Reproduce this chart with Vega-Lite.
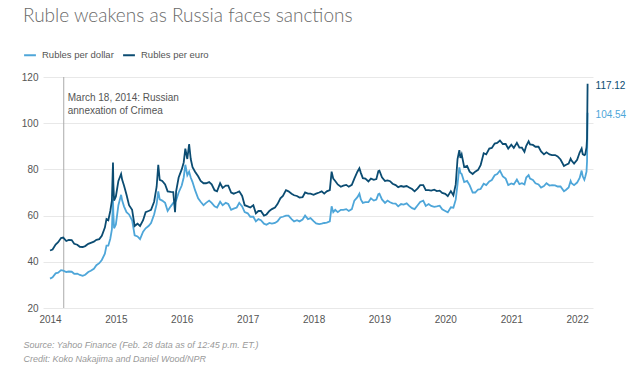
{
  "$schema": "https://vega.github.io/schema/vega-lite/v6.json",
  "width": 550,
  "height": 231,
  "autosize": {"type": "none"},
  "padding": {"left": 43, "top": 77, "right": 37, "bottom": 67},
  "background": "white",
  "config": {
    "view": {"stroke": null},
    "font": "Liberation Sans",
    "axis": {"labelFont": "Liberation Sans", "labelColor": "#555555", "labelFontSize": 10}
  },
  "title": {
    "text": "Ruble weakens as Russia faces sanctions",
    "anchor": "start",
    "frame": "group",
    "font": "Lato",
    "fontSize": 19,
    "fontWeight": 300,
    "color": "#6a6a6a",
    "dx": -20,
    "offset": 22
  },
  "datasets": {
    "rates": [
      {"date": "2014-01-01", "usd": 32.7, "eur": 44.9},
      {"date": "2014-01-15", "usd": 33.3, "eur": 45.3},
      {"date": "2014-02-01", "usd": 35.0, "eur": 47.5},
      {"date": "2014-02-15", "usd": 35.3, "eur": 48.5},
      {"date": "2014-03-03", "usd": 36.4, "eur": 50.3},
      {"date": "2014-03-15", "usd": 36.2, "eur": 50.5},
      {"date": "2014-04-01", "usd": 35.6, "eur": 49.0},
      {"date": "2014-04-15", "usd": 35.8, "eur": 49.5},
      {"date": "2014-05-01", "usd": 35.7, "eur": 49.4},
      {"date": "2014-05-15", "usd": 34.8, "eur": 47.8},
      {"date": "2014-06-01", "usd": 34.9, "eur": 47.4},
      {"date": "2014-06-15", "usd": 34.3, "eur": 46.5},
      {"date": "2014-07-01", "usd": 33.9, "eur": 46.4},
      {"date": "2014-07-15", "usd": 34.4, "eur": 46.8},
      {"date": "2014-08-01", "usd": 35.6, "eur": 47.8},
      {"date": "2014-08-15", "usd": 36.1, "eur": 48.2},
      {"date": "2014-09-01", "usd": 37.0, "eur": 48.7},
      {"date": "2014-09-15", "usd": 38.5, "eur": 49.5},
      {"date": "2014-10-01", "usd": 39.4, "eur": 49.8},
      {"date": "2014-10-15", "usd": 40.8, "eur": 51.2},
      {"date": "2014-11-01", "usd": 43.5, "eur": 54.8},
      {"date": "2014-11-10", "usd": 47.0, "eur": 58.5},
      {"date": "2014-11-20", "usd": 47.0, "eur": 58.0},
      {"date": "2014-12-01", "usd": 50.0, "eur": 62.0},
      {"date": "2014-12-10", "usd": 54.0, "eur": 66.5},
      {"date": "2014-12-16", "usd": 67.0, "eur": 83.0},
      {"date": "2014-12-18", "usd": 61.0, "eur": 74.0},
      {"date": "2014-12-22", "usd": 54.5, "eur": 66.5},
      {"date": "2015-01-01", "usd": 56.2, "eur": 68.3},
      {"date": "2015-01-15", "usd": 64.5, "eur": 75.0},
      {"date": "2015-01-30", "usd": 69.0, "eur": 78.0},
      {"date": "2015-02-05", "usd": 66.5, "eur": 75.5},
      {"date": "2015-02-15", "usd": 64.0, "eur": 73.0},
      {"date": "2015-03-01", "usd": 61.5, "eur": 69.0},
      {"date": "2015-03-15", "usd": 60.5, "eur": 64.5},
      {"date": "2015-04-01", "usd": 58.0, "eur": 62.5},
      {"date": "2015-04-15", "usd": 51.5, "eur": 55.5},
      {"date": "2015-05-01", "usd": 51.0, "eur": 56.5},
      {"date": "2015-05-15", "usd": 49.8, "eur": 55.5},
      {"date": "2015-06-01", "usd": 53.0, "eur": 58.0},
      {"date": "2015-06-15", "usd": 54.5, "eur": 61.5},
      {"date": "2015-07-01", "usd": 55.5, "eur": 62.0},
      {"date": "2015-07-15", "usd": 56.8, "eur": 62.5},
      {"date": "2015-08-01", "usd": 60.5, "eur": 66.0},
      {"date": "2015-08-15", "usd": 65.0, "eur": 72.5},
      {"date": "2015-08-24", "usd": 70.5, "eur": 82.0},
      {"date": "2015-09-01", "usd": 67.0, "eur": 75.5},
      {"date": "2015-09-15", "usd": 66.5, "eur": 75.0},
      {"date": "2015-10-01", "usd": 65.5, "eur": 73.5},
      {"date": "2015-10-15", "usd": 62.0, "eur": 70.5},
      {"date": "2015-11-01", "usd": 64.0, "eur": 70.3},
      {"date": "2015-11-15", "usd": 65.5, "eur": 70.2},
      {"date": "2015-11-25", "usd": 66.0, "eur": 61.5},
      {"date": "2015-12-01", "usd": 66.5, "eur": 70.5},
      {"date": "2015-12-15", "usd": 70.0, "eur": 76.5},
      {"date": "2016-01-01", "usd": 73.0, "eur": 80.0},
      {"date": "2016-01-12", "usd": 76.5, "eur": 83.0},
      {"date": "2016-01-21", "usd": 82.0, "eur": 89.0},
      {"date": "2016-02-01", "usd": 77.5, "eur": 84.5},
      {"date": "2016-02-11", "usd": 79.0, "eur": 91.0},
      {"date": "2016-02-20", "usd": 76.5, "eur": 84.5},
      {"date": "2016-03-01", "usd": 74.5, "eur": 81.0},
      {"date": "2016-03-15", "usd": 71.0, "eur": 79.0},
      {"date": "2016-04-01", "usd": 67.5, "eur": 77.0},
      {"date": "2016-04-15", "usd": 66.0, "eur": 75.0},
      {"date": "2016-05-01", "usd": 64.5, "eur": 74.0},
      {"date": "2016-05-15", "usd": 65.5, "eur": 74.0},
      {"date": "2016-06-01", "usd": 66.5, "eur": 74.5},
      {"date": "2016-06-15", "usd": 65.5, "eur": 73.5},
      {"date": "2016-07-01", "usd": 64.0, "eur": 71.0},
      {"date": "2016-07-15", "usd": 63.5, "eur": 70.5},
      {"date": "2016-08-01", "usd": 66.0, "eur": 74.0},
      {"date": "2016-08-15", "usd": 64.5, "eur": 72.0},
      {"date": "2016-09-01", "usd": 65.5, "eur": 73.0},
      {"date": "2016-09-15", "usd": 65.0, "eur": 73.0},
      {"date": "2016-10-01", "usd": 62.5, "eur": 70.0},
      {"date": "2016-10-15", "usd": 63.0, "eur": 69.5},
      {"date": "2016-11-01", "usd": 63.5, "eur": 70.0},
      {"date": "2016-11-15", "usd": 65.5, "eur": 70.5},
      {"date": "2016-12-01", "usd": 64.0, "eur": 68.5},
      {"date": "2016-12-15", "usd": 61.5, "eur": 64.5},
      {"date": "2017-01-01", "usd": 61.0, "eur": 64.0},
      {"date": "2017-01-15", "usd": 59.5, "eur": 63.5},
      {"date": "2017-02-01", "usd": 59.5, "eur": 64.5},
      {"date": "2017-02-15", "usd": 57.5, "eur": 61.0},
      {"date": "2017-03-01", "usd": 58.5, "eur": 62.0},
      {"date": "2017-03-15", "usd": 58.0, "eur": 62.0},
      {"date": "2017-04-01", "usd": 56.5, "eur": 60.0},
      {"date": "2017-04-15", "usd": 56.0, "eur": 60.5},
      {"date": "2017-05-01", "usd": 56.8, "eur": 62.0},
      {"date": "2017-05-15", "usd": 56.5, "eur": 62.8},
      {"date": "2017-06-01", "usd": 56.8, "eur": 63.5},
      {"date": "2017-06-15", "usd": 57.5, "eur": 65.0},
      {"date": "2017-07-01", "usd": 59.2, "eur": 67.5},
      {"date": "2017-07-15", "usd": 59.5, "eur": 68.5},
      {"date": "2017-08-01", "usd": 60.0, "eur": 71.0},
      {"date": "2017-08-15", "usd": 60.0, "eur": 70.5},
      {"date": "2017-09-01", "usd": 58.5, "eur": 69.5},
      {"date": "2017-09-15", "usd": 57.5, "eur": 68.8},
      {"date": "2017-10-01", "usd": 58.0, "eur": 68.5},
      {"date": "2017-10-15", "usd": 57.5, "eur": 67.8},
      {"date": "2017-11-01", "usd": 58.3, "eur": 68.0},
      {"date": "2017-11-15", "usd": 60.0, "eur": 70.0},
      {"date": "2017-12-01", "usd": 58.5, "eur": 69.5},
      {"date": "2017-12-15", "usd": 58.9, "eur": 69.5},
      {"date": "2018-01-01", "usd": 57.6, "eur": 69.0},
      {"date": "2018-01-15", "usd": 56.6, "eur": 69.5},
      {"date": "2018-02-01", "usd": 56.3, "eur": 70.0},
      {"date": "2018-02-15", "usd": 56.5, "eur": 70.5},
      {"date": "2018-03-01", "usd": 56.8, "eur": 69.5},
      {"date": "2018-03-15", "usd": 57.0, "eur": 70.5},
      {"date": "2018-04-01", "usd": 57.5, "eur": 71.0},
      {"date": "2018-04-11", "usd": 64.0, "eur": 79.0},
      {"date": "2018-04-20", "usd": 61.5, "eur": 76.0},
      {"date": "2018-05-01", "usd": 62.5, "eur": 75.0},
      {"date": "2018-05-15", "usd": 61.5, "eur": 73.5},
      {"date": "2018-06-01", "usd": 62.5, "eur": 72.5},
      {"date": "2018-06-15", "usd": 62.5, "eur": 73.0},
      {"date": "2018-07-01", "usd": 62.8, "eur": 73.3},
      {"date": "2018-07-15", "usd": 62.0, "eur": 72.5},
      {"date": "2018-08-01", "usd": 62.8, "eur": 73.3},
      {"date": "2018-08-15", "usd": 66.5, "eur": 76.0},
      {"date": "2018-09-01", "usd": 68.0, "eur": 79.0},
      {"date": "2018-09-12", "usd": 69.5, "eur": 80.5},
      {"date": "2018-09-20", "usd": 67.0, "eur": 78.5},
      {"date": "2018-10-01", "usd": 65.5, "eur": 76.2},
      {"date": "2018-10-15", "usd": 65.8, "eur": 76.0},
      {"date": "2018-11-01", "usd": 65.8, "eur": 74.8},
      {"date": "2018-11-15", "usd": 67.5, "eur": 76.0},
      {"date": "2018-12-01", "usd": 66.5, "eur": 75.5},
      {"date": "2018-12-15", "usd": 66.9, "eur": 75.8},
      {"date": "2018-12-26", "usd": 69.3, "eur": 79.2},
      {"date": "2019-01-01", "usd": 69.5, "eur": 79.4},
      {"date": "2019-01-15", "usd": 67.0, "eur": 76.6},
      {"date": "2019-02-01", "usd": 65.5, "eur": 75.0},
      {"date": "2019-02-15", "usd": 66.5, "eur": 75.2},
      {"date": "2019-03-01", "usd": 65.8, "eur": 74.9},
      {"date": "2019-03-15", "usd": 65.3, "eur": 73.8},
      {"date": "2019-04-01", "usd": 65.2, "eur": 73.2},
      {"date": "2019-04-15", "usd": 64.0, "eur": 72.3},
      {"date": "2019-05-01", "usd": 65.0, "eur": 72.8},
      {"date": "2019-05-15", "usd": 64.8, "eur": 72.5},
      {"date": "2019-06-01", "usd": 65.3, "eur": 72.8},
      {"date": "2019-06-15", "usd": 64.2, "eur": 72.2},
      {"date": "2019-07-01", "usd": 63.2, "eur": 71.5},
      {"date": "2019-07-15", "usd": 62.8, "eur": 70.5},
      {"date": "2019-08-01", "usd": 64.5, "eur": 71.8},
      {"date": "2019-08-15", "usd": 65.9, "eur": 73.2},
      {"date": "2019-09-01", "usd": 66.5, "eur": 73.2},
      {"date": "2019-09-15", "usd": 64.2, "eur": 71.0},
      {"date": "2019-10-01", "usd": 65.0, "eur": 71.0},
      {"date": "2019-10-15", "usd": 64.2, "eur": 70.8},
      {"date": "2019-11-01", "usd": 63.8, "eur": 71.2},
      {"date": "2019-11-15", "usd": 64.0, "eur": 70.6},
      {"date": "2019-12-01", "usd": 64.3, "eur": 70.8},
      {"date": "2019-12-15", "usd": 62.7, "eur": 69.8},
      {"date": "2020-01-01", "usd": 62.0, "eur": 69.4},
      {"date": "2020-01-15", "usd": 61.4, "eur": 68.4},
      {"date": "2020-02-01", "usd": 63.6, "eur": 70.6},
      {"date": "2020-02-15", "usd": 63.4, "eur": 68.8},
      {"date": "2020-02-28", "usd": 66.9, "eur": 73.5},
      {"date": "2020-03-09", "usd": 73.5, "eur": 84.5},
      {"date": "2020-03-19", "usd": 80.9, "eur": 88.3},
      {"date": "2020-03-25", "usd": 78.5, "eur": 85.0},
      {"date": "2020-04-01", "usd": 78.0, "eur": 86.5},
      {"date": "2020-04-15", "usd": 74.5, "eur": 81.0},
      {"date": "2020-05-01", "usd": 75.0, "eur": 81.5},
      {"date": "2020-05-15", "usd": 73.2, "eur": 79.0},
      {"date": "2020-06-01", "usd": 70.0, "eur": 78.0},
      {"date": "2020-06-15", "usd": 70.0, "eur": 79.0},
      {"date": "2020-07-01", "usd": 71.3, "eur": 79.8},
      {"date": "2020-07-15", "usd": 71.5, "eur": 81.8},
      {"date": "2020-08-01", "usd": 73.8, "eur": 87.0},
      {"date": "2020-08-15", "usd": 73.2, "eur": 86.5},
      {"date": "2020-09-01", "usd": 74.8, "eur": 89.0},
      {"date": "2020-09-15", "usd": 75.4, "eur": 89.3},
      {"date": "2020-10-01", "usd": 77.5, "eur": 91.2},
      {"date": "2020-10-15", "usd": 78.0, "eur": 91.5},
      {"date": "2020-10-30", "usd": 79.5, "eur": 92.5},
      {"date": "2020-11-15", "usd": 77.0, "eur": 91.0},
      {"date": "2020-12-01", "usd": 76.0, "eur": 91.0},
      {"date": "2020-12-15", "usd": 73.2, "eur": 89.0},
      {"date": "2021-01-01", "usd": 73.9, "eur": 90.7},
      {"date": "2021-01-15", "usd": 73.5, "eur": 89.3},
      {"date": "2021-02-01", "usd": 75.6, "eur": 91.5},
      {"date": "2021-02-15", "usd": 73.6, "eur": 89.4},
      {"date": "2021-03-01", "usd": 74.0, "eur": 89.4},
      {"date": "2021-03-15", "usd": 73.5, "eur": 87.6},
      {"date": "2021-03-25", "usd": 76.5, "eur": 90.2},
      {"date": "2021-04-07", "usd": 77.5, "eur": 92.2},
      {"date": "2021-04-15", "usd": 76.0, "eur": 90.8},
      {"date": "2021-05-01", "usd": 75.4, "eur": 90.6},
      {"date": "2021-05-15", "usd": 74.0, "eur": 89.8},
      {"date": "2021-06-01", "usd": 73.5, "eur": 89.8},
      {"date": "2021-06-15", "usd": 72.1, "eur": 87.8},
      {"date": "2021-07-01", "usd": 72.8, "eur": 86.5},
      {"date": "2021-07-15", "usd": 74.0, "eur": 87.4},
      {"date": "2021-08-01", "usd": 73.0, "eur": 86.5},
      {"date": "2021-08-15", "usd": 73.2, "eur": 86.2},
      {"date": "2021-09-01", "usd": 73.1, "eur": 86.2},
      {"date": "2021-09-15", "usd": 72.6, "eur": 85.6},
      {"date": "2021-10-01", "usd": 72.6, "eur": 84.3},
      {"date": "2021-10-20", "usd": 70.5, "eur": 81.5},
      {"date": "2021-11-01", "usd": 71.2, "eur": 82.0},
      {"date": "2021-11-15", "usd": 72.2, "eur": 82.5},
      {"date": "2021-11-26", "usd": 75.0, "eur": 84.6},
      {"date": "2021-12-01", "usd": 74.0, "eur": 83.8},
      {"date": "2021-12-15", "usd": 73.2, "eur": 82.5},
      {"date": "2022-01-01", "usd": 74.3, "eur": 84.2},
      {"date": "2022-01-15", "usd": 76.3, "eur": 87.3},
      {"date": "2022-01-26", "usd": 79.5, "eur": 89.0},
      {"date": "2022-02-01", "usd": 77.0, "eur": 86.6},
      {"date": "2022-02-10", "usd": 75.5, "eur": 86.2},
      {"date": "2022-02-15", "usd": 76.8, "eur": 86.5},
      {"date": "2022-02-22", "usd": 79.0, "eur": 89.5},
      {"date": "2022-02-25", "usd": 83.5, "eur": 93.5},
      {"date": "2022-02-28", "usd": 104.54, "eur": 117.12}
    ]
  },
  "encoding": {
    "x": {
      "field": "date",
      "type": "temporal",
      "scale": {"domain": [{"year": 2013, "month": 11, "date": 23}, {"year": 2022, "month": 3, "date": 30}]},
      "axis": {
        "format": "%Y",
        "tickCount": {"interval": "year", "step": 1},
        "grid": false,
        "domain": false,
        "ticks": false,
        "labelPadding": 6,
        "labelFontSize": 10,
        "title": ["Source: Yahoo Finance (Feb. 28 data as of 12:45 p.m. ET.)", "Credit: Koko Nakajima and Daniel Wood/NPR"],
        "titleFont": "Liberation Sans",
        "titleFontSize": 9,
        "titleFontWeight": "normal",
        "titleFontStyle": "italic",
        "titleColor": "#999999",
        "titleAlign": "left",
        "titleAnchor": "start",
        "titleBaseline": "top",
        "titleLineHeight": 14,
        "titleX": -20,
        "titleY": 32
      }
    }
  },
  "layer": [
    {
      "data": {"values": [{"date": "2014-03-18", "note": ["March 18, 2014: Russian", "annexation of Crimea"]}]},
      "mark": {"type": "rule", "color": "#aaaaaa", "strokeWidth": 1},
      "encoding": {}
    },
    {
      "data": {"values": [{"date": "2014-03-18", "note": ["March 18, 2014: Russian", "annexation of Crimea"]}]},
      "mark": {"type": "text", "align": "left", "baseline": "top", "dx": 4, "fontSize": 10, "color": "#555555", "lineHeight": 13, "font": "Liberation Sans"},
      "encoding": {
        "y": {"datum": 113.2, "type": "quantitative", "scale": {"domain": [20, 120], "zero": false}},
        "text": {"field": "note"}
      }
    },
    {
      "data": {"name": "rates"},
      "mark": {"type": "line", "strokeWidth": 1.8, "interpolate": "linear"},
      "encoding": {
        "y": {
          "field": "usd",
          "type": "quantitative",
          "scale": {"domain": [20, 120], "zero": false},
          "axis": {
            "values": [20, 40, 60, 80, 100, 120],
            "grid": true,
            "gridColor": "#e8e8e8",
            "gridWidth": 1,
            "domain": false,
            "ticks": false,
            "labelPadding": 5,
            "title": null
          }
        },
        "color": {
          "datum": "Rubles per dollar",
          "scale": {"domain": ["Rubles per dollar", "Rubles per euro"], "range": ["#4ea6d9", "#0b4c72"]},
          "legend": {
            "orient": "none",
            "legendX": -20,
            "legendY": -29,
            "direction": "horizontal",
            "title": null,
            "symbolType": "stroke",
            "symbolSize": 140,
            "symbolStrokeWidth": 2,
            "labelFont": "Liberation Sans",
            "labelFontSize": 9.5,
            "labelColor": "#555555",
            "columnPadding": 5,
            "labelOffset": 5
          }
        }
      }
    },
    {
      "data": {"name": "rates"},
      "mark": {"type": "line", "strokeWidth": 1.8, "interpolate": "linear"},
      "encoding": {
        "y": {"field": "eur", "type": "quantitative", "scale": {"domain": [20, 120], "zero": false}},
        "color": {"datum": "Rubles per euro"}
      }
    },
    {
      "data": {"name": "rates"},
      "transform": [{"filter": {"field": "date", "timeUnit": "yearmonthdate", "equal": {"year": 2022, "month": 2, "date": 28}}}],
      "mark": {"type": "text", "align": "left", "baseline": "middle", "dx": 8, "dy": 2, "fontSize": 10, "font": "Liberation Sans"},
      "encoding": {
        "y": {"field": "usd", "type": "quantitative", "scale": {"domain": [20, 120], "zero": false}},
        "text": {"field": "usd", "format": ".2f"},
        "color": {"datum": "Rubles per dollar"}
      }
    },
    {
      "data": {"name": "rates"},
      "transform": [{"filter": {"field": "date", "timeUnit": "yearmonthdate", "equal": {"year": 2022, "month": 2, "date": 28}}}],
      "mark": {"type": "text", "align": "left", "baseline": "middle", "dx": 8, "dy": 2, "fontSize": 10, "font": "Liberation Sans"},
      "encoding": {
        "y": {"field": "eur", "type": "quantitative", "scale": {"domain": [20, 120], "zero": false}},
        "text": {"field": "eur", "format": ".2f"},
        "color": {"datum": "Rubles per euro"}
      }
    }
  ]
}
